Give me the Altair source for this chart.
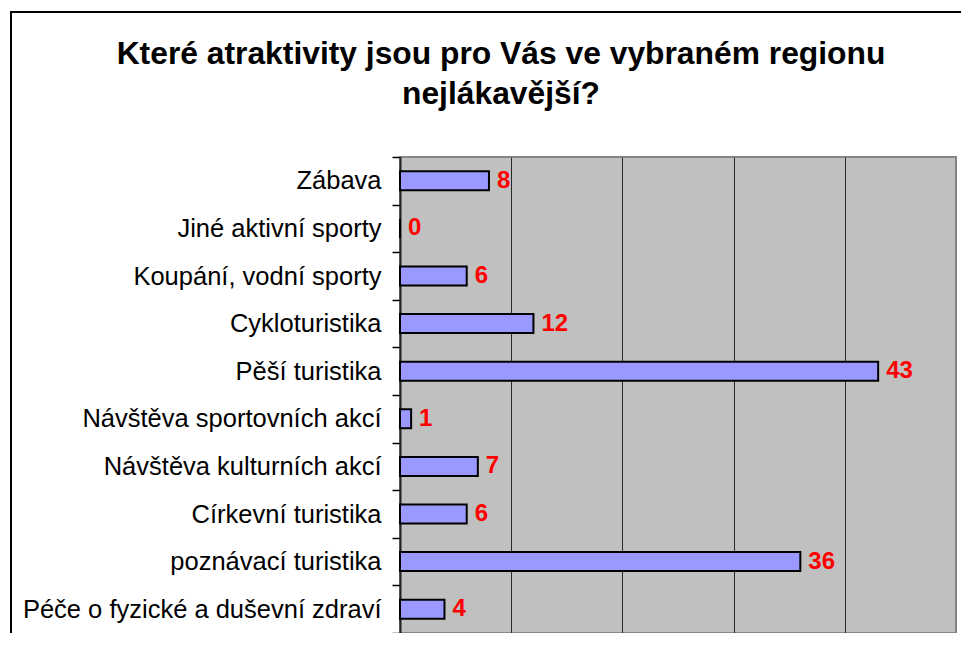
import altair as alt
import pandas as pd

categories = [
    "Zábava",
    "Jiné aktivní sporty",
    "Koupání, vodní sporty",
    "Cykloturistika",
    "Pěší turistika",
    "Návštěva sportovních akcí",
    "Návštěva kulturních akcí",
    "Církevní turistika",
    "poznávací turistika",
    "Péče o fyzické a duševní zdraví",
]
values = [8, 0, 6, 12, 43, 1, 7, 6, 36, 4]
title_lines = ["Které atraktivity jsou pro Vás ve vybraném regionu", "nejlákavější?"]
grid_values = [10, 20, 30, 40]

df = pd.DataFrame({"cat": categories, "val": values})

FONT = "Liberation Sans"
W, H = 556, 476

x_enc = alt.X(
    "val:Q",
    scale=alt.Scale(domain=[0, 50], nice=False, zero=True),
    axis=alt.Axis(
        title=None, labels=False, ticks=False, domain=False,
        grid=True, gridColor="#2a2a2a", gridWidth=1, values=grid_values,
    ),
)
y_enc = alt.Y(
    "cat:N",
    sort=categories,
    scale=alt.Scale(paddingInner=0, paddingOuter=0),
    axis=alt.Axis(
        title=None, labelFont=FONT, labelFontSize=25.5, labelColor="black",
        labelPadding=11, tickBand="extent", tickSize=8, tickColor="black",
        tickWidth=1.5, domainColor="#222222", domainWidth=2, labelLimit=400,
    ),
)

frame = alt.Chart(pd.DataFrame({"a": [0]})).mark_rect(
    fill="transparent", stroke="black", strokeWidth=2
).encode(
    x=alt.value(-389), x2=alt.value(585), y=alt.value(-145), y2=alt.value(499)
)

bars = alt.Chart(df).mark_bar(
    size=19, color="#9999FF", stroke="black", strokeWidth=2
).encode(x=x_enc, y=y_enc)

labels = alt.Chart(df).mark_text(
    align="left", baseline="middle", dx=8, color="#FF0000",
    font=FONT, fontSize=24, fontWeight="bold"
).encode(x=alt.X("val:Q"), y=alt.Y("cat:N", sort=categories), text="val:Q")

chart = alt.layer(frame, bars, labels).properties(
    width=W,
    height=H,
    padding={"left": 392, "top": 149, "right": 5, "bottom": 0},
    autosize=alt.AutoSizeParams(type="none"),
    background="white",
    title=alt.TitleParams(
        text=title_lines, font=FONT, fontSize=31.8, fontWeight="bold",
        color="black", lineHeight=40, anchor="middle", frame="group",
        dx=-177, offset=-100,
    ),
).configure_view(
    fill="#C0C0C0", stroke="#858585", strokeWidth=2
)

chart.save("out.html", embed_options={"renderer": "svg", "actions": False})
